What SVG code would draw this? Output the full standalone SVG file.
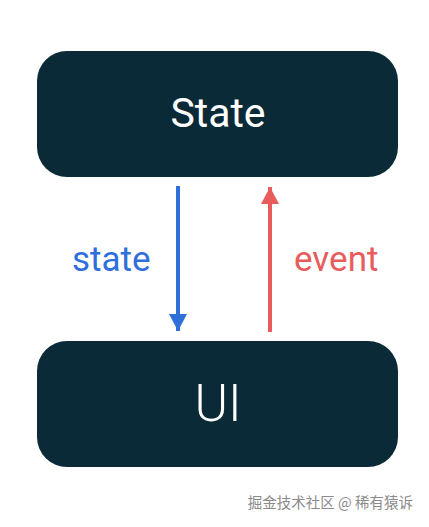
<svg xmlns="http://www.w3.org/2000/svg" width="429" height="527" viewBox="0 0 429 527">
<style>
.box{fill:#0b2a38}
.lbl{fill:#ffffff;font-family:Roboto,"Open Sans",sans-serif;text-anchor:middle}
.edge{font-family:Roboto,"Liberation Sans",sans-serif;font-size:35px}
</style>
<defs>
<marker id="hb" markerWidth="19" markerHeight="18" refX="18" refY="9.5" orient="auto" markerUnits="userSpaceOnUse" viewBox="0 0 18 19">
<path d="M0,0 L18,9.5 L0,19 Z" fill="#2f6fdc"/>
</marker>
<marker id="hr" markerWidth="19" markerHeight="18" refX="18" refY="9.5" orient="auto" markerUnits="userSpaceOnUse" viewBox="0 0 18 19">
<path d="M0,0 L18,9.5 L0,19 Z" fill="#e85c5c"/>
</marker>
</defs>
<rect width="429" height="527" fill="#ffffff"/>
<g id="connectors">
<line x1="178" y1="186" x2="178" y2="331" stroke="#2f6fdc" stroke-width="4" marker-end="url(#hb)"/>
<line x1="270" y1="332" x2="270" y2="187" stroke="#e85c5c" stroke-width="4" marker-end="url(#hr)"/>
<text class="edge" x="72" y="271" fill="#2f6fdc">state</text>
<text class="edge" x="294" y="271" fill="#e85c5c">event</text>
</g>
<g id="state">
<rect class="box" x="37" y="51" width="361" height="126" rx="30"/>
<text class="lbl" x="218" y="127" font-size="41">State</text>
</g>
<g id="ui">
<rect class="box" x="37" y="341" width="361" height="126" rx="30"/>
<text class="lbl" x="218" y="421" font-size="51" font-weight="300">UI</text>
</g>
<text x="413" y="508" font-family="'Noto Sans CJK SC',sans-serif" font-size="14.5" fill="#8a8a8a" text-anchor="end">掘金技术社区 @ 稀有猿诉</text>
</svg>
